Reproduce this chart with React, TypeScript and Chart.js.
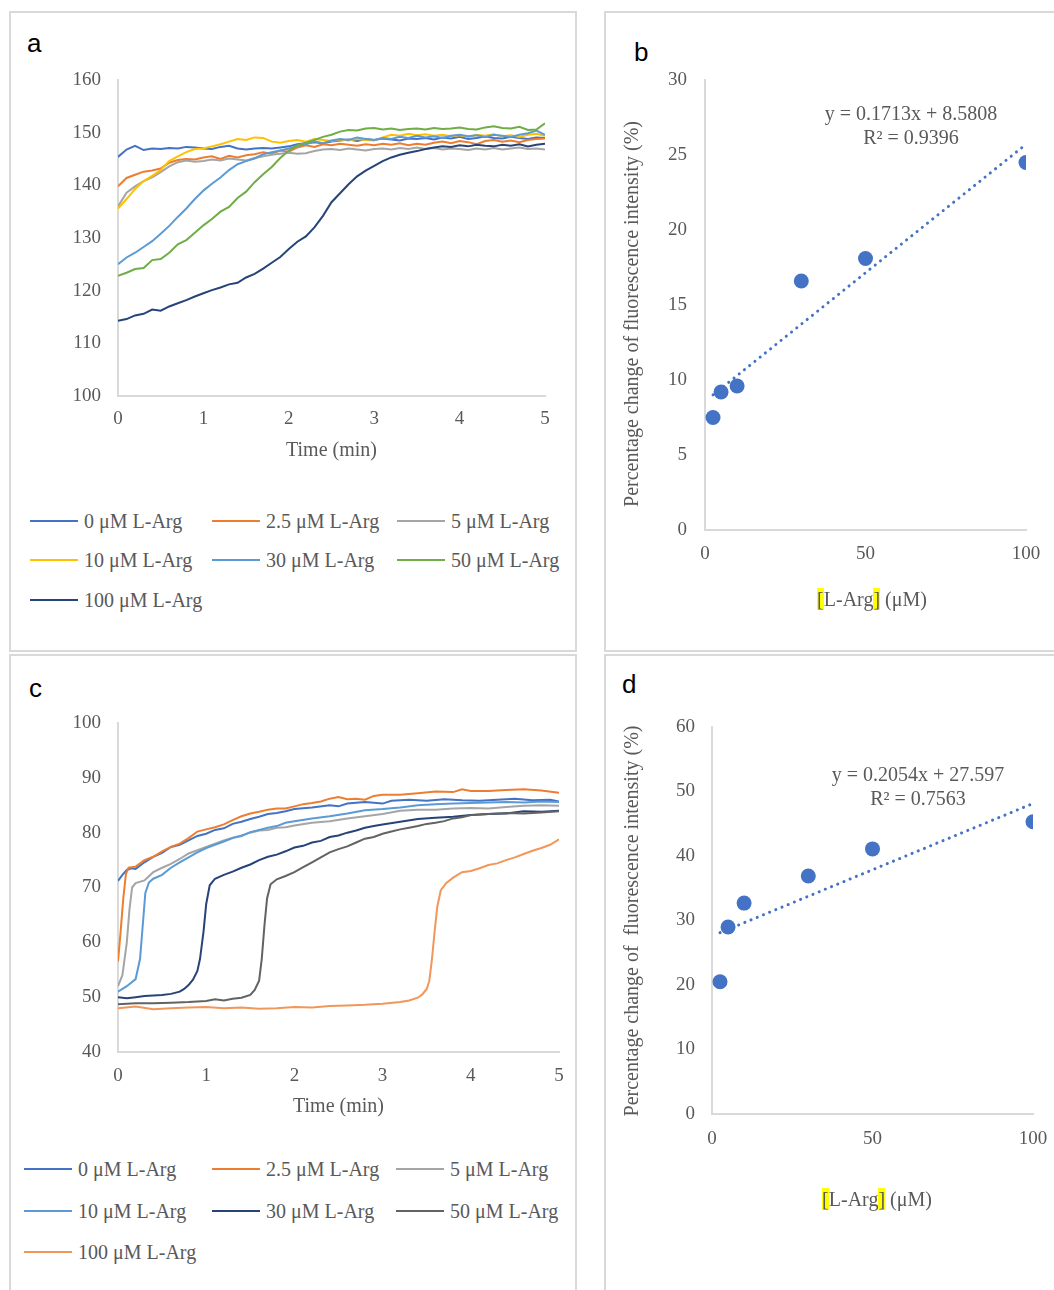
import React, { useEffect, useRef } from "react";
import { Chart, registerables } from "chart.js";
Chart.register(...registerables);

const SERIF = '"Liberation Serif", "Times New Roman", serif';
const SANS = '"Liberation Sans", Arial, sans-serif';
const TEXT = "#595959";
const AXIS = "#d9d9d9";

const seriesLabels = ["0 μM L-Arg", "2.5 μM L-Arg", "5 μM L-Arg", "10 μM L-Arg", "30 μM L-Arg", "50 μM L-Arg", "100 μM L-Arg"];
const colorsA = ["#4472C4", "#ED7D31", "#A5A5A5", "#FFC000", "#5B9BD5", "#70AD47", "#264478"];
const colorsC = ["#4472C4", "#ED7D31", "#A5A5A5", "#5B9BD5", "#264478", "#636363", "#F1975A"];

// Panel a: time grid (min) and fluorescence per series
const timeA = [0, 0.1, 0.2, 0.3, 0.4, 0.5, 0.6, 0.7, 0.8, 0.9, 1.0, 1.1, 1.2, 1.3, 1.4, 1.5, 1.6, 1.7, 1.8, 1.9, 2.0, 2.1, 2.2, 2.3, 2.4, 2.5, 2.6, 2.7, 2.8, 2.9, 3.0, 3.1, 3.2, 3.3, 3.4, 3.5, 3.6, 3.7, 3.8, 3.9, 4.0, 4.1, 4.2, 4.3, 4.4, 4.5, 4.6, 4.7, 4.8, 4.9, 5.0];
const a0 = [145.4, 146.8, 147.5, 146.7, 147.0, 146.9, 147.1, 147.0, 147.3, 147.2, 147.0, 146.9, 147.3, 147.5, 147.0, 146.8, 147.0, 147.1, 147.0, 147.2, 147.4, 147.8, 148.0, 148.2, 148.0, 148.3, 148.5, 148.7, 148.4, 148.8, 148.6, 148.9, 148.7, 148.5, 148.9, 148.8, 149.0, 148.7, 149.1, 148.9, 149.2, 148.8, 149.0, 149.3, 149.0, 148.9, 149.2, 149.0, 148.8, 149.1, 149.0];
const a25 = [139.8, 141.4, 142.0, 142.6, 142.8, 143.2, 144.3, 144.8, 145.0, 144.9, 145.3, 145.5, 145.0, 145.6, 145.3, 145.7, 145.9, 146.3, 146.0, 146.6, 146.4, 147.2, 147.6, 147.3, 147.8, 147.6, 147.9, 147.7, 147.5, 147.8, 147.6, 147.9, 147.7, 148.0, 147.6, 147.9, 147.7, 148.1, 148.3, 148.0, 148.4, 148.2, 147.8, 148.4, 148.6, 148.3, 148.5, 148.2, 148.6, 148.8, 148.9];
const a5 = [136.0, 138.6, 139.8, 140.8, 141.5, 142.5, 143.6, 144.4, 144.7, 144.5, 144.6, 144.9, 144.7, 145.1, 144.9, 144.7, 145.2, 145.5, 145.8, 146.0, 146.2, 146.0, 146.1, 146.5, 146.8, 146.9, 146.7, 147.0, 146.8, 146.6, 146.9, 147.0, 146.8, 147.1, 146.9, 147.2, 146.9, 147.1, 146.8, 147.0, 146.9, 146.7, 147.0, 146.8, 147.1, 146.8, 147.0, 147.2, 146.9, 147.0, 146.8];
const a10 = [135.6, 137.4, 139.3, 140.8, 141.8, 142.9, 144.6, 145.5, 146.3, 146.9, 147.0, 147.4, 147.8, 148.3, 148.8, 148.6, 149.1, 149.0, 148.3, 148.1, 148.4, 148.6, 148.3, 148.8, 148.6, 148.4, 148.7, 148.5, 148.8, 148.6, 148.5, 149.1, 149.6, 149.4, 149.8, 149.5, 149.7, 149.4, 149.6, 149.3, 149.5, 149.2, 149.6, 149.4, 149.7, 149.3, 149.5, 149.2, 149.6, 149.8, 149.4];
const a30 = [125.0, 126.3, 127.2, 128.3, 129.4, 130.8, 132.3, 134.0, 135.6, 137.4, 139.0, 140.3, 141.5, 142.9, 144.0, 144.6, 145.1, 145.9, 146.3, 146.6, 147.0, 147.5, 147.8, 148.3, 148.0, 148.5, 148.8, 148.6, 149.1, 148.8, 148.6, 149.0, 148.8, 149.2, 149.0, 149.4, 149.1, 149.3, 149.0, 149.4, 149.6, 149.3, 149.5, 149.2, 149.6, 149.4, 149.2, 149.6, 149.9, 150.4, 149.6];
const a50 = [122.8, 123.4, 124.1, 124.3, 125.8, 126.0, 127.2, 128.8, 129.6, 131.0, 132.4, 133.6, 135.0, 135.9, 137.6, 138.8, 140.6, 142.1, 143.5, 145.2, 146.6, 147.6, 148.1, 148.6, 149.2, 149.6, 150.2, 150.5, 150.4, 150.8, 150.9, 150.6, 150.8, 150.5, 150.7, 150.8, 150.6, 150.9, 150.7, 150.8, 151.0, 150.7, 150.6, 151.0, 151.2, 150.9, 150.8, 151.1, 150.5, 150.6, 151.8];
const a100 = [114.3, 114.6, 115.3, 115.6, 116.4, 116.2, 117.0, 117.6, 118.2, 118.9, 119.5, 120.1, 120.6, 121.2, 121.5, 122.5, 123.2, 124.2, 125.3, 126.4, 127.9, 129.3, 130.3, 132.0, 134.2, 136.8, 138.5, 140.2, 141.7, 142.8, 143.7, 144.6, 145.3, 145.8, 146.2, 146.5, 146.9, 147.2, 147.4, 147.3, 147.6, 147.4, 147.7, 147.5, 147.4, 147.7, 147.5, 147.8, 147.4, 147.7, 147.9];
const seriesA = [a0, a25, a5, a10, a30, a50, a100];

// Panel c: [time (min), fluorescence] pairs per series
const c0 = [[0, 71.2], [0.05, 72.3], [0.1, 73.2], [0.15, 73.5], [0.2, 73.4], [0.3, 74.6], [0.4, 75.6], [0.5, 76.3], [0.6, 77.4], [0.7, 77.8], [0.8, 78.6], [0.9, 79.4], [1.0, 79.8], [1.1, 80.5], [1.2, 80.8], [1.3, 81.6], [1.4, 82.0], [1.5, 82.5], [1.6, 82.9], [1.7, 83.4], [1.8, 83.6], [1.9, 83.9], [2.0, 84.3], [2.2, 84.6], [2.4, 85.0], [2.5, 84.8], [2.6, 85.3], [2.8, 85.6], [3.0, 85.3], [3.1, 85.8], [3.3, 86.0], [3.5, 85.8], [3.7, 86.1], [3.9, 85.9], [4.1, 85.8], [4.3, 86.0], [4.5, 86.2], [4.7, 85.9], [4.9, 86.0], [5.0, 85.7]];
const c25 = [[0, 56.5], [0.03, 62], [0.06, 68], [0.09, 72.5], [0.12, 73.6], [0.2, 73.8], [0.3, 75.0], [0.4, 75.6], [0.5, 76.6], [0.6, 77.4], [0.7, 78.0], [0.8, 79.0], [0.9, 80.2], [1.0, 80.6], [1.1, 81.0], [1.2, 81.5], [1.3, 82.3], [1.4, 83.0], [1.5, 83.5], [1.6, 83.8], [1.7, 84.2], [1.8, 84.4], [1.9, 84.4], [2.0, 84.8], [2.1, 85.2], [2.2, 85.4], [2.3, 85.7], [2.4, 86.2], [2.5, 86.5], [2.6, 86.1], [2.7, 86.2], [2.8, 86.0], [2.9, 86.7], [3.0, 86.9], [3.2, 86.9], [3.4, 87.2], [3.6, 87.5], [3.8, 87.4], [3.9, 87.9], [4.0, 87.6], [4.2, 87.6], [4.4, 87.8], [4.6, 87.9], [4.8, 87.7], [5.0, 87.3]];
const c5 = [[0, 52.0], [0.05, 54], [0.1, 60], [0.13, 66], [0.16, 70], [0.2, 70.8], [0.3, 71.3], [0.4, 72.8], [0.5, 73.6], [0.6, 74.3], [0.7, 75.2], [0.8, 76.2], [0.9, 76.8], [1.0, 77.4], [1.1, 78.0], [1.2, 78.6], [1.3, 79.1], [1.4, 79.5], [1.5, 80.0], [1.6, 80.4], [1.7, 80.5], [1.8, 80.9], [1.9, 81.0], [2.0, 81.3], [2.2, 81.8], [2.4, 82.1], [2.6, 82.6], [2.8, 83.0], [3.0, 83.4], [3.2, 84.0], [3.4, 84.2], [3.6, 84.2], [3.8, 84.4], [4.0, 84.5], [4.2, 84.4], [4.4, 84.7], [4.6, 84.9], [4.8, 85.0], [5.0, 84.9]];
const c10 = [[0, 51.0], [0.1, 52.0], [0.2, 53.3], [0.25, 57], [0.28, 63], [0.31, 69], [0.35, 70.9], [0.4, 71.6], [0.5, 72.3], [0.6, 73.6], [0.7, 74.6], [0.8, 75.5], [0.9, 76.4], [1.0, 77.2], [1.1, 77.8], [1.2, 78.4], [1.3, 79.0], [1.4, 79.4], [1.5, 80.1], [1.6, 80.5], [1.7, 80.9], [1.8, 81.2], [1.9, 81.8], [2.0, 82.1], [2.2, 82.6], [2.4, 83.0], [2.6, 83.5], [2.8, 84.1], [3.0, 84.3], [3.2, 84.6], [3.4, 85.0], [3.6, 85.2], [3.8, 85.3], [4.0, 85.4], [4.2, 85.5], [4.4, 85.6], [4.6, 85.5], [4.8, 85.7], [5.0, 85.6]];
const c30 = [[0, 50.0], [0.1, 49.8], [0.2, 50.0], [0.3, 50.2], [0.4, 50.3], [0.5, 50.4], [0.6, 50.6], [0.7, 51.0], [0.75, 51.5], [0.8, 52.2], [0.85, 53.2], [0.9, 54.8], [0.93, 57], [0.97, 62], [1.0, 67], [1.04, 70.4], [1.1, 71.6], [1.2, 72.3], [1.3, 72.9], [1.4, 73.6], [1.5, 74.2], [1.6, 75.0], [1.7, 75.6], [1.8, 76.0], [1.9, 76.6], [2.0, 77.3], [2.1, 77.6], [2.2, 78.2], [2.3, 78.5], [2.4, 79.2], [2.5, 79.5], [2.6, 80.0], [2.7, 80.4], [2.8, 80.9], [2.9, 81.2], [3.0, 81.5], [3.2, 82.0], [3.4, 82.5], [3.6, 82.7], [3.8, 82.9], [4.0, 83.2], [4.2, 83.4], [4.4, 83.5], [4.6, 83.9], [4.8, 83.8], [5.0, 84.0]];
const c50 = [[0, 48.7], [0.2, 48.9], [0.4, 48.9], [0.6, 49.0], [0.8, 49.1], [1.0, 49.3], [1.1, 49.6], [1.2, 49.4], [1.3, 49.7], [1.4, 49.9], [1.5, 50.4], [1.55, 51.3], [1.6, 53], [1.63, 57], [1.66, 63], [1.69, 68], [1.73, 70.6], [1.8, 71.5], [1.9, 72.1], [2.0, 72.8], [2.1, 73.7], [2.2, 74.6], [2.3, 75.5], [2.4, 76.4], [2.5, 77.0], [2.6, 77.5], [2.7, 78.2], [2.8, 78.9], [2.9, 79.2], [3.0, 79.8], [3.1, 80.2], [3.2, 80.6], [3.3, 80.9], [3.4, 81.2], [3.5, 81.6], [3.6, 81.8], [3.7, 82.1], [3.8, 82.6], [3.9, 82.8], [4.0, 83.2], [4.2, 83.4], [4.4, 83.6], [4.6, 83.5], [4.8, 83.7], [5.0, 83.9]];
const c100 = [[0, 48.0], [0.2, 48.3], [0.4, 47.8], [0.6, 48.0], [0.8, 48.1], [1.0, 48.2], [1.2, 48.0], [1.4, 48.1], [1.6, 47.9], [1.8, 48.0], [2.0, 48.2], [2.2, 48.1], [2.4, 48.4], [2.6, 48.5], [2.8, 48.6], [3.0, 48.8], [3.2, 49.1], [3.3, 49.4], [3.4, 49.9], [3.45, 50.5], [3.5, 51.5], [3.53, 53], [3.56, 57], [3.59, 62], [3.62, 66.5], [3.66, 69.5], [3.72, 70.8], [3.8, 71.8], [3.9, 72.8], [4.0, 73.0], [4.1, 73.5], [4.2, 74.1], [4.3, 74.4], [4.4, 75.0], [4.5, 75.5], [4.6, 76.1], [4.7, 76.7], [4.8, 77.2], [4.9, 77.8], [5.0, 78.8]];
const seriesC = [c0, c25, c5, c10, c30, c50, c100];

// Panels b and d: concentration vs percentage change, with linear trend endpoints
const concentrations = [2.5, 5, 10, 30, 50, 100];
const changeB = [7.5, 9.2, 9.6, 16.6, 18.1, 24.5];
const changeD = [20.5, 29.0, 32.7, 36.9, 41.1, 45.3];
const trendX = [2.5, 100];
const trendB = [9.01, 25.71];
const trendD = [28.11, 48.14];
const eqB = ["y = 0.1713x + 8.5808", "R² = 0.9396"];
const eqD = ["y = 0.2054x + 27.597", "R² = 0.7563"];

function tickFont(size: number) {
  return { family: SERIF, size };
}

const fixX = (h: number) => (s: any) => { s.height = h; s.paddingLeft = 0; s.paddingRight = 0; };
const fixY = (w: number) => (s: any) => { s.width = w; s.paddingTop = 0; s.paddingBottom = 0; };

function lineConfig(datasets: { x: number; y: number }[][], colors: string[], yMin: number, yMax: number, g: any): any {
  return {
    type: "line",
    data: {
      datasets: datasets.map((d, i) => ({
        label: seriesLabels[i],
        data: d,
        borderColor: colors[i],
        backgroundColor: colors[i],
        borderWidth: 2,
        pointRadius: 0,
        tension: 0,
        fill: false,
        order: -i,
      })),
    },
    options: {
      animation: false,
      responsive: false,
      maintainAspectRatio: false,
      parsing: false,
      layout: { padding: g.padding, autoPadding: false },
      plugins: { legend: { display: false }, tooltip: { enabled: false } },
      scales: {
        x: {
          type: "linear",
          min: 0,
          max: 5,
          ticks: { stepSize: 1, color: TEXT, font: tickFont(19), padding: g.xTickPad, maxRotation: 0 },
          grid: { display: false, drawTicks: false },
          border: { display: true, color: AXIS, width: 2 },
          title: { display: true, text: "Time (min)", color: TEXT, font: { family: SERIF, size: 20 }, padding: 0 },
          afterFit: fixX(g.xHeight),
        },
        y: {
          type: "linear",
          min: yMin,
          max: yMax,
          ticks: { stepSize: 10, color: TEXT, font: tickFont(19), padding: 17 },
          grid: { display: false, drawTicks: false },
          border: { display: true, color: AXIS, width: 2 },
          afterFit: fixY(g.yWidth),
        },
      },
    },
  };
}

function scatterConfig(values: number[], trend: number[], yMax: number, yStep: number, g: any): any {
  return {
    type: "scatter",
    data: {
      datasets: [
        {
          type: "scatter",
          data: concentrations.map((x, i) => ({ x, y: values[i] })),
          backgroundColor: "#4472C4",
          borderColor: "#4472C4",
          pointRadius: 7.5,
          borderWidth: 0,
          order: 0,
        },
        {
          type: "line",
          data: trendX.map((x, i) => ({ x, y: trend[i] })),
          borderColor: "#4472C4",
          borderWidth: 3,
          borderDash: [0.1, 6.6],
          borderCapStyle: "round",
          pointRadius: 0,
          showLine: true,
          fill: false,
          order: 1,
        },
      ],
    },
    options: {
      animation: false,
      responsive: false,
      maintainAspectRatio: false,
      layout: { padding: g.padding, autoPadding: false },
      plugins: { legend: { display: false }, tooltip: { enabled: false } },
      scales: {
        x: {
          type: "linear",
          min: 0,
          max: 100,
          ticks: { stepSize: 50, color: TEXT, font: tickFont(19), padding: g.xTickPad, maxRotation: 0 },
          grid: { display: false, drawTicks: false },
          border: { display: true, color: AXIS, width: 2 },
          afterFit: fixX(g.xHeight),
        },
        y: {
          type: "linear",
          min: 0,
          max: yMax,
          ticks: { stepSize: yStep, color: TEXT, font: tickFont(19), padding: g.yTickPad },
          grid: { display: false, drawTicks: false },
          border: { display: true, color: AXIS, width: 2 },
          afterFit: fixY(g.yWidth),
        },
      },
    },
  };
}

function ChartBox({ left, top, width, height, build }: { left: number; top: number; width: number; height: number; build: () => any }) {
  const ref = useRef<HTMLCanvasElement>(null);
  useEffect(() => {
    const chart = new Chart(ref.current as HTMLCanvasElement, build());
    return () => chart.destroy();
  }, []);
  return <canvas ref={ref} width={width} height={height} style={{ position: "absolute", left, top, width, height }} />;
}

function Legend({ colors, cols, rows }: { colors: string[]; cols: number[]; rows: number[] }) {
  return (
    <>
      {seriesLabels.map((lab, i) => {
        const x = cols[i % 3];
        const y = rows[Math.floor(i / 3)];
        return (
          <div key={i} style={{ position: "absolute", left: x, top: y - 12, height: 24, display: "flex", alignItems: "center", whiteSpace: "nowrap" }}>
            <div style={{ width: 48, height: 2, background: colors[i] }} />
            <span style={{ marginLeft: 6, font: `20px ${SERIF}`, color: TEXT, lineHeight: "24px" }}>{lab}</span>
          </div>
        );
      })}
    </>
  );
}

const panelStyle = (left: number, top: number, width: number, height: number): React.CSSProperties => ({
  position: "absolute", left, top, width, height, boxSizing: "border-box", border: `2px solid ${AXIS}`, background: "#fff",
});

const letterStyle = (left: number, top: number): React.CSSProperties => ({
  position: "absolute", left, top, font: `26px ${SANS}`, lineHeight: 1, color: "#000",
});

function YTitle({ cx, cy, text }: { cx: number; cy: number; text: string }) {
  return (
    <div style={{ position: "absolute", left: cx - 250, top: cy - 12, width: 500, height: 24, lineHeight: "24px", textAlign: "center", transform: "rotate(-90deg)", font: `20px ${SERIF}`, color: TEXT, whiteSpace: "pre" }}>{text}</div>
  );
}

function XTitle({ cx, cy }: { cx: number; cy: number }) {
  const hl: React.CSSProperties = { background: "#FFFF00" };
  return (
    <div style={{ position: "absolute", left: cx - 100, top: cy - 12, width: 200, lineHeight: "24px", textAlign: "center", font: `20px ${SERIF}`, color: TEXT, whiteSpace: "pre" }}>
      <span style={hl}>[</span>L-Arg<span style={hl}>]</span> (μM)
    </div>
  );
}

function Equation({ cx, top, lines }: { cx: number; top: number; lines: string[] }) {
  return (
    <div style={{ position: "absolute", left: cx - 120, top, width: 240, textAlign: "center", font: `20px ${SERIF}`, lineHeight: "24px", color: TEXT }}>
      {lines.map((l, i) => <div key={i}>{l}</div>)}
    </div>
  );
}

export default function App() {
  const dataA = seriesA.map((s) => timeA.map((t, j) => ({ x: t, y: s[j] })));
  const dataC = seriesC.map((s) => s.map((p) => ({ x: p[0], y: p[1] })));
  return (
    <div style={{ position: "absolute", left: 0, top: 0, width: 1054, height: 1290, background: "#fff", overflow: "hidden" }}>
      <div style={panelStyle(9, 11, 568, 641)} />
      <div style={panelStyle(604, 11, 470, 641)} />
      <div style={panelStyle(9, 654, 568, 700)} />
      <div style={panelStyle(604, 654, 470, 700)} />

      <div style={letterStyle(27, 30)}>a</div>
      <div style={letterStyle(634, 39)}>b</div>
      <div style={letterStyle(29, 675)}>c</div>
      <div style={letterStyle(622, 671)}>d</div>

      <ChartBox left={10} top={12} width={568} height={470}
        build={() => lineConfig(dataA, colorsA, 100, 160, { padding: { left: 0, top: 68, right: 33, bottom: 19 }, yWidth: 108, xHeight: 67, xTickPad: 12 })} />
      <Legend colors={colorsA} cols={[30, 212, 397]} rows={[521, 560, 600]} />

      <ChartBox left={10} top={655} width={568} height={480}
        build={() => lineConfig(dataC, colorsC, 40, 100, { padding: { left: 0, top: 68, right: 19, bottom: 16 }, yWidth: 108, xHeight: 67, xTickPad: 13 })} />
      <Legend colors={colorsC} cols={[24, 212, 396]} rows={[1169, 1211, 1252]} />

      <ChartBox left={605} top={12} width={449} height={620}
        build={() => scatterConfig(changeB, trendB, 30, 5, { padding: { left: 0, top: 68, right: 28, bottom: 62 }, yWidth: 100, xHeight: 40, xTickPad: 13, yTickPad: 18 })} />
      <Equation cx={911} top={101} lines={eqB} />
      <YTitle cx={632} cy={314} text="Percentage change of fluorescence intensity (%)" />
      <XTitle cx={872} cy={600} />

      <ChartBox left={605} top={655} width={449} height={620}
        build={() => scatterConfig(changeD, trendD, 60, 10, { padding: { left: 0, top: 72, right: 21, bottom: 121 }, yWidth: 107, xHeight: 40, xTickPad: 14, yTickPad: 17 })} />
      <Equation cx={918} top={762} lines={eqD} />
      <YTitle cx={632} cy={921} text="Percentage change of  fluorescence intensity (%)" />
      <XTitle cx={877} cy={1200} />
    </div>
  );
}
